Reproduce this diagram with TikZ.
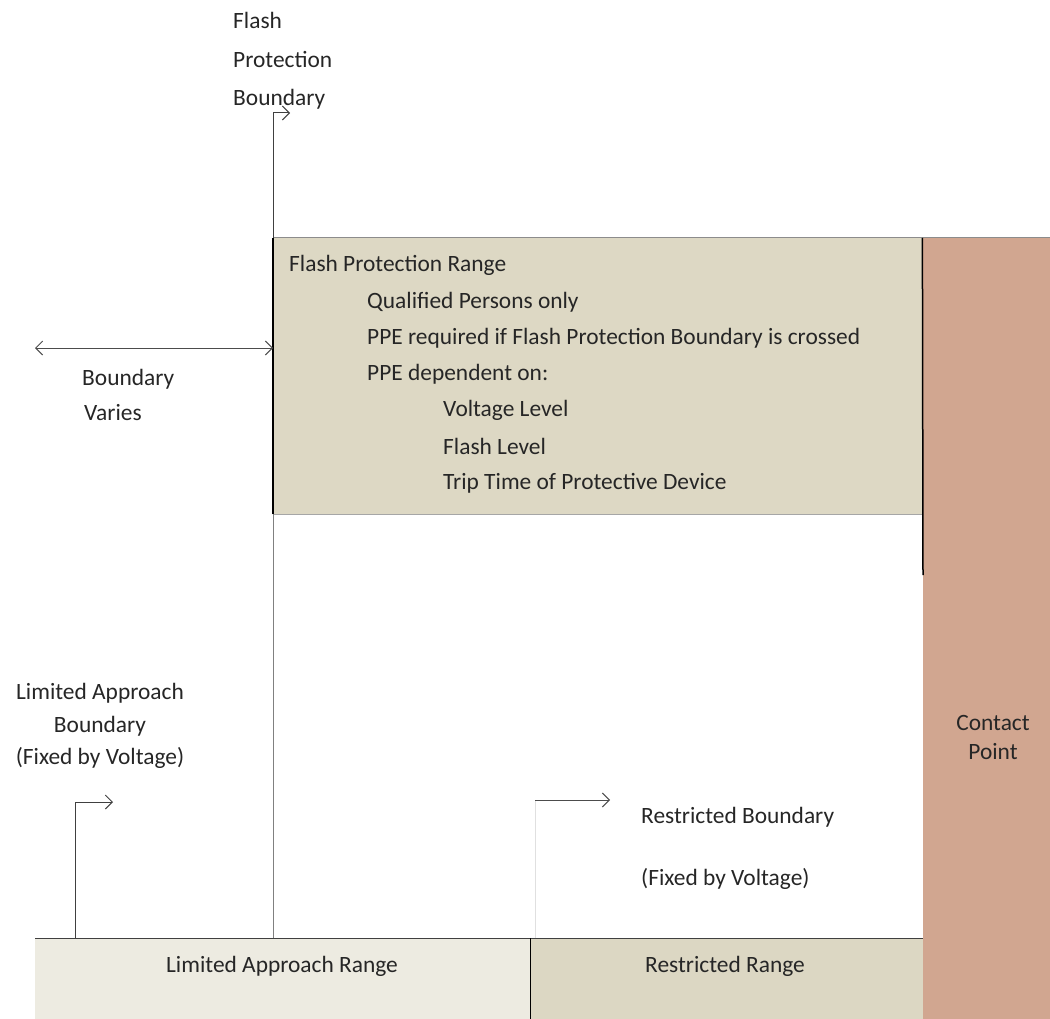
\documentclass[tikz,border=0pt]{standalone}
\usepackage{fontspec}
\setmainfont{Carlito}
\usetikzlibrary{arrows.meta}
\definecolor{fprfill}{HTML}{DDD8C4}
\definecolor{cpfill}{HTML}{D1A690}
\definecolor{larfill}{HTML}{EDEBE1}
\definecolor{rrfill}{HTML}{DCD7C3}
\definecolor{txt}{HTML}{262626}
\tikzset{
  lbl/.style={font=\fontsize{23.4}{26}\selectfont, text=txt, inner sep=0pt},
  area/.style={inner sep=0pt, anchor=north west},
  barb/.style={-{Straight Barb[length=7pt,width=14pt,line width=1pt]}},
  conn/.style={draw=black!75, line width=1pt},
}
\begin{document}
\begin{tikzpicture}[x=1pt,y=-1pt]
\useasboundingbox (0,0) rectangle (1050,1019);
% areas
\node[area, fill=fprfill, minimum width=649pt, minimum height=276pt] (fpr) at (273,238) {};
\node[area, fill=cpfill, minimum width=127pt, minimum height=781pt] (cp) at (923,238) {};
\node[area, fill=larfill, minimum width=495pt, minimum height=81pt] (lar) at (35,938) {};
\node[area, fill=rrfill, minimum width=393pt, minimum height=81pt] (rr) at (530,938) {};
% borders
\draw[draw=black!45, line width=1pt] (fpr.north west) -- (cp.north east);
\draw[draw=black!35, line width=1pt] (fpr.south west) -- (fpr.south east);
\draw[draw=black, line width=1.5pt] (fpr.north east) -- (923,575);
\draw[draw=black!75, line width=1pt] (lar.north west) -- (rr.north east);
\draw[draw=black, line width=1pt] (lar.north east) -- (lar.south east);
% texts in flash protection range
\node[lbl, anchor=west] (t1) at (289,265) {Flash Protection Range};
\node[lbl, anchor=west] (t2) at (367,302) {Qualified Persons only};
\node[lbl, anchor=west] (t3) at (367,338) {PPE required if Flash Protection Boundary is crossed};
\node[lbl, anchor=west] (t4) at (367,374) {PPE dependent on:};
\node[lbl, anchor=west] (t5) at (443,410) {Voltage Level};
\node[lbl, anchor=west] (t6) at (443,446) {Flash Level};
\node[lbl, anchor=west] (t7) at (443,483) {Trip Time of Protective Device};
% contact point
\node[lbl, align=center, font=\fontsize{23.4}{29}\selectfont] (cpt) at (993,737) {Contact\\Point};
% bottom labels
\node[lbl] (lart) at (282,966) {Limited Approach Range};
\node[lbl] (rrt) at (725,966) {Restricted Range};
% flash protection boundary
\node[lbl, anchor=west, align=left, font=\fontsize{23.4}{38.5}\selectfont] (fpb) at (233,61) {Flash\\Protection\\Boundary};
\coordinate (fpbBot) at (273,938);
\coordinate (fpbTop) at (273,113);
\coordinate (fpbTip) at (290,113);
\draw[draw=black!50, line width=1pt] (fpbBot) -- (fpr.south west);
\draw[draw=black, line width=2pt] (fpr.south west) -- (fpr.north west);
\draw[conn, barb] (fpr.north west) -- (fpbTop) -- (fpbTip);
% boundary varies
\coordinate (bvL) at (35,348);
\coordinate (bvR) at (273,348);
\draw[draw=black!70, line width=1pt, {Straight Barb[length=7pt,width=14pt,line width=1pt]}-{Straight Barb[length=7pt,width=14pt,line width=1pt]}] (bvL) -- (bvR);
\node[lbl, anchor=west] (bv1) at (82,379) {Boundary};
\node[lbl, anchor=west] (bv2) at (84,413) {Varies};
% limited approach boundary
\node[lbl, align=center, font=\fontsize{23.4}{32.5}\selectfont] (lab) at (100,726) {Limited Approach\\Boundary\\(Fixed by Voltage)};
\coordinate (labBot) at (75,938);
\coordinate (labTop) at (75,802);
\coordinate (labTip) at (113,802);
\draw[conn, barb] (labBot) -- (labTop) -- (labTip);
% restricted boundary
\coordinate (rbBot) at (535,938);
\coordinate (rbTop) at (535,800);
\coordinate (rbTip) at (610,800);
\draw[draw=black!12, line width=1pt] (rbBot) -- (rbTop);
\draw[draw=black!70, line width=1pt, barb] (rbTop) -- (rbTip);
\node[lbl, anchor=west] (rb1) at (641,817) {Restricted Boundary};
\node[lbl, anchor=west] (rb2) at (641,879) {(Fixed by Voltage)};
\end{tikzpicture}
\end{document}
